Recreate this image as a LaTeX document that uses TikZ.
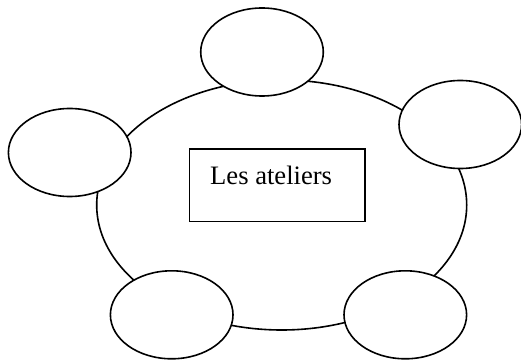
\documentclass[tikz,border=0pt]{standalone}
\usepackage{fontspec}
\setmainfont{Liberation Serif}
\usepackage{tikz}
\usetikzlibrary{shapes.geometric}

\tikzset{
    atelier/.style={draw, ellipse, fill=white, line width=1.6pt,
        minimum width=122.6pt, minimum height=88pt, inner sep=0pt}
}

\begin{document}
\begin{tikzpicture}[x=1pt,y=-1pt]
    \useasboundingbox (0,0) rectangle (521,363);

    % Big ring
    \draw[line width=1.6pt] (281.7,205) ellipse [x radius=185pt, y radius=125pt];

    % Workshops round the ring
    \node[atelier] (top) at (262,52) {};
    \node[atelier] (right) at (460.3,124.5) {};
    \node[atelier] (left) at (69.7,152.5) {};
    \node[atelier] (botleft) at (171.7,314.8) {};
    \node[atelier] (botright) at (405.3,314.8) {};

    % Centre box
    \node[draw, line width=1.6pt, minimum width=175.7pt, minimum height=72.7pt,
        inner sep=0pt] (box) at (277.2,185.3) {};
    \node[anchor=base west, inner sep=0pt, font=\fontsize{26.6}{30}\selectfont]
        (title) at (210,185) {Les ateliers};
\end{tikzpicture}
\end{document}
